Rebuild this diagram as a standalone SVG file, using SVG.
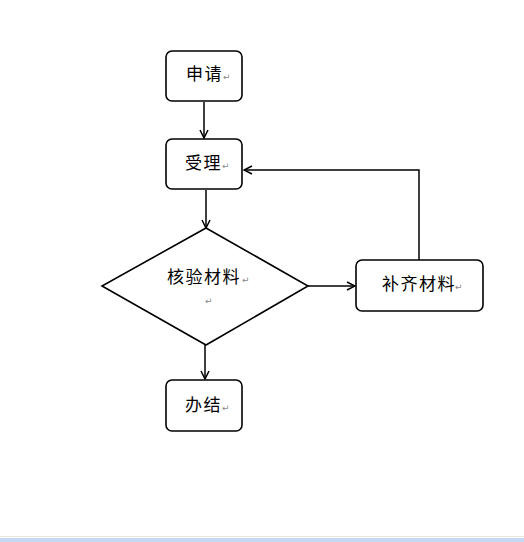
<svg xmlns="http://www.w3.org/2000/svg" width="524" height="542" viewBox="0 0 524 542">
<defs>
<marker id="arr" viewBox="0 0 10 10" refX="9" refY="5" markerWidth="10" markerHeight="10" markerUnits="userSpaceOnUse" orient="auto">
<path d="M1,1 L9,5 L1,9" fill="none" stroke="#000" stroke-width="1.5"/>
</marker>
<style>
.box{fill:#fff;stroke:#000;stroke-width:1.6}
.lbl{font-family:"Noto Sans CJK SC","Liberation Sans",sans-serif;font-size:17px;letter-spacing:1.5px;fill:#000}
.rm{font-family:"DejaVu Sans",sans-serif;font-size:9px;fill:#888}
.con{fill:none;stroke:#000;stroke-width:1.5}
</style>
</defs>
<rect x="0" y="0" width="524" height="542" fill="#fff"/>
<rect x="0" y="536" width="524" height="1" fill="#e8e8e0"/>
<rect x="0" y="538" width="524" height="4" fill="#c8d8f4"/>

<g id="connectors">
<line class="con" x1="204" y1="102" x2="204" y2="138" marker-end="url(#arr)"/>
<line class="con" x1="206" y1="190" x2="206" y2="228" marker-end="url(#arr)"/>
<line class="con" x1="308" y1="286" x2="355" y2="286" marker-end="url(#arr)"/>
<polyline class="con" points="419,260 419,170 244,170" marker-end="url(#arr)"/>
<line class="con" x1="205" y1="345" x2="205" y2="379" marker-end="url(#arr)"/>
</g>

<g id="node-shenqing">
<rect class="box" x="166" y="51" width="76" height="50" rx="6"/>
<text class="lbl" x="186" y="80">申请</text>
<text class="rm" x="223" y="80">↵</text>
</g>

<g id="node-shouli">
<rect class="box" x="166" y="139" width="76" height="50" rx="6"/>
<text class="lbl" x="185" y="169">受理</text>
<text class="rm" x="222" y="169">↵</text>
</g>

<g id="node-heyan">
<polygon class="box" points="206,228 308,286 206,345 102,286"/>
<text class="lbl" x="167" y="283">核验材料</text>
<text class="rm" x="242" y="283">↵</text>
<text class="rm" x="205" y="304" font-size="5">↵</text>
</g>

<g id="node-buqi">
<rect class="box" x="356" y="260" width="127" height="51" rx="6"/>
<text class="lbl" x="382" y="290">补齐材料</text>
<text class="rm" x="455" y="290">↵</text>
</g>

<g id="node-banjie">
<rect class="box" x="166" y="380" width="76" height="51" rx="6"/>
<text class="lbl" x="185" y="411">办结</text>
<text class="rm" x="222" y="411" font-size="5">↵</text>
</g>
</svg>
